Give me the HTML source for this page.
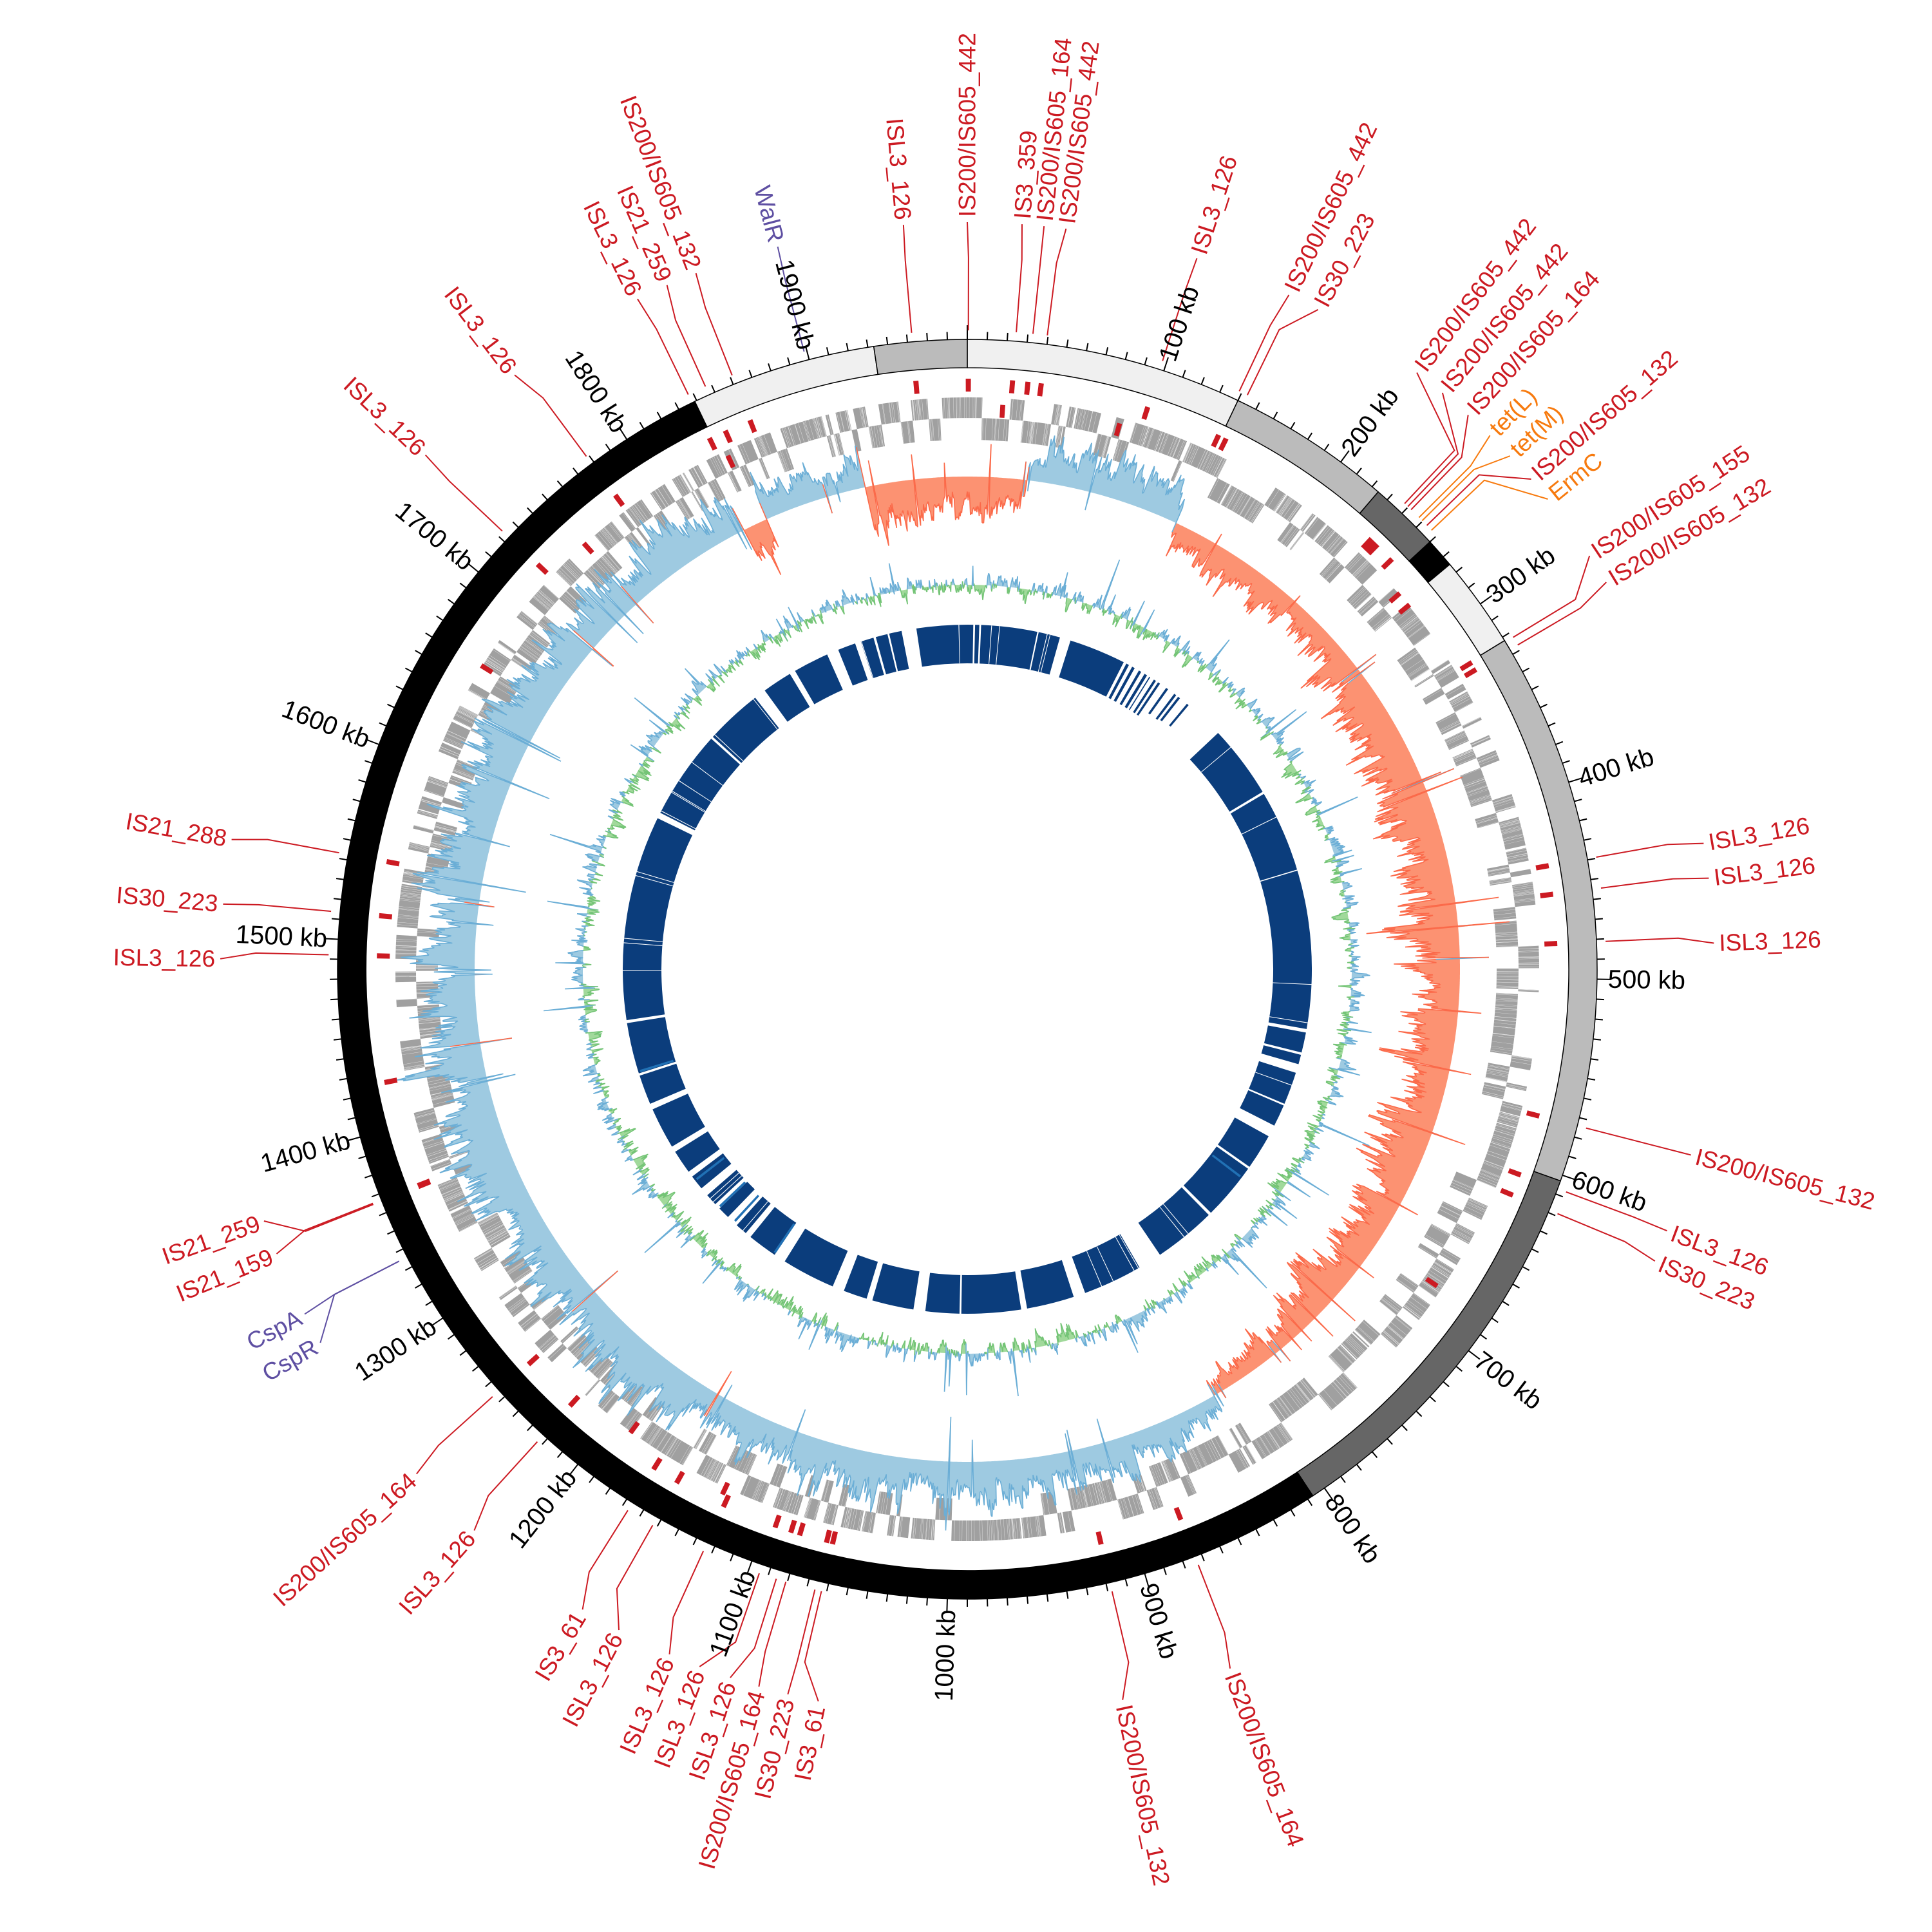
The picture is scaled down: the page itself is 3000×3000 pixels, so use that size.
<!DOCTYPE html>
<html><head><meta charset="utf-8">
<style>
html,body{margin:0;padding:0;background:#fff;}
svg{display:block;}
text{font-family:"Liberation Sans",sans-serif;font-size:37px;dominant-baseline:central;}
.r{fill:#cc1a22;}
.p{fill:#5e4fa2;}
.o{fill:#f77a0e;}
.k{fill:#000;font-size:40px;}
.L{text-anchor:end;}
</style></head>
<body>
<svg id="s" width="3000" height="3000" viewBox="0 0 3000 3000" xmlns="http://www.w3.org/2000/svg">
<g id="tracks"></g>
<g id="leaders"></g>
<g id="labels">
<text class="r L" transform="rotate(322.7 1502 1505) translate(1502 337) rotate(90)">ISL3_126</text>
<text class="r L" transform="rotate(313.5 1502 1505) translate(1502 337) rotate(90)">ISL3_126</text>
<text class="r L" transform="rotate(338.7 1502 1505) translate(1502 337) rotate(90)">IS200/IS605_132</text>
<text class="r L" transform="rotate(336.3 1502 1505) translate(1502 337) rotate(90)">IS21_259</text>
<text class="r L" transform="rotate(333.8 1502 1505) translate(1502 337) rotate(90)">ISL3_126</text>
<text class="p L" transform="rotate(345.3 1502 1505) translate(1502 337) rotate(90)">WalR</text>
<text class="r L" transform="rotate(355.1 1502 1505) translate(1502 337) rotate(90)">ISL3_126</text>
<text class="r" transform="rotate(0 1502 1505) translate(1502 337) rotate(-90)">IS200/IS605_442</text>
<text class="r" transform="rotate(4.2 1502 1505) translate(1502 337) rotate(-90)">IS3_359</text>
<text class="r" transform="rotate(5.9 1502 1505) translate(1502 337) rotate(-90)">IS200/IS605_164</text>
<text class="r" transform="rotate(7.6 1502 1505) translate(1502 337) rotate(-90)">IS200/IS605_442</text>
<text class="r" transform="rotate(17.9 1502 1505) translate(1502 337) rotate(-90)">ISL3_126</text>
<text class="r" transform="rotate(25.5 1502 1505) translate(1502 337) rotate(-90)">IS200/IS605_442</text>
<text class="r" transform="rotate(28.0 1502 1505) translate(1502 337) rotate(-90)">IS30_223</text>
<text class="r" transform="rotate(37.0 1502 1505) translate(1502 337) rotate(-90)">IS200/IS605_442</text>
<text class="r" transform="rotate(39.5 1502 1505) translate(1502 337) rotate(-90)">IS200/IS605_442</text>
<text class="r" transform="rotate(42.1 1502 1505) translate(1502 337) rotate(-90)">IS200/IS605_164</text>
<text class="o" transform="rotate(44.4 1502 1505) translate(1502 337) rotate(-90)">tet(L)</text>
<text class="o" transform="rotate(46.6 1502 1505) translate(1502 337) rotate(-90)">tet(M)</text>
<text class="r" transform="rotate(49.0 1502 1505) translate(1502 337) rotate(-90)">IS200/IS605_132</text>
<text class="o" transform="rotate(51.0 1502 1505) translate(1502 337) rotate(-90)">ErmC</text>
<text class="r" transform="rotate(56.4 1502 1505) translate(1502 337) rotate(-90)">IS200/IS605_155</text>
<text class="r" transform="rotate(58.8 1502 1505) translate(1502 337) rotate(-90)">IS200/IS605_132</text>
<text class="r" transform="rotate(80.3 1502 1505) translate(1502 337) rotate(-90)">ISL3_126</text>
<text class="r" transform="rotate(83.0 1502 1505) translate(1502 337) rotate(-90)">ISL3_126</text>
<text class="r" transform="rotate(88.0 1502 1505) translate(1502 337) rotate(-90)">ISL3_126</text>
<text class="r" transform="rotate(104.4 1502 1505) translate(1502 337) rotate(-90)">IS200/IS605_132</text>
<text class="r" transform="rotate(110.5 1502 1505) translate(1502 337) rotate(-90)">ISL3_126</text>
<text class="r" transform="rotate(113.0 1502 1505) translate(1502 337) rotate(-90)">IS30_223</text>
<text class="r" transform="rotate(159.4 1502 1505) translate(1502 337) rotate(-90)">IS200/IS605_164</text>
<text class="r" transform="rotate(168.0 1502 1505) translate(1502 337) rotate(-90)">IS200/IS605_132</text>
<text class="r L" transform="rotate(191.5 1502 1505) translate(1502 337) rotate(90)">IS3_61</text>
<text class="r L" transform="rotate(193.9 1502 1505) translate(1502 337) rotate(90)">IS30_223</text>
<text class="r L" transform="rotate(196.2 1502 1505) translate(1502 337) rotate(90)">IS200/IS605_164</text>
<text class="r L" transform="rotate(198.5 1502 1505) translate(1502 337) rotate(90)">ISL3_126</text>
<text class="r L" transform="rotate(201.0 1502 1505) translate(1502 337) rotate(90)">ISL3_126</text>
<text class="r L" transform="rotate(203.5 1502 1505) translate(1502 337) rotate(90)">ISL3_126</text>
<text class="r L" transform="rotate(207.8 1502 1505) translate(1502 337) rotate(90)">ISL3_126</text>
<text class="r L" transform="rotate(211.0 1502 1505) translate(1502 337) rotate(90)">IS3_61</text>
<text class="r L" transform="rotate(221.3 1502 1505) translate(1502 337) rotate(90)">ISL3_126</text>
<text class="r L" transform="rotate(227.5 1502 1505) translate(1502 337) rotate(90)">IS200/IS605_164</text>
<text class="p L" transform="rotate(242.5 1502 1505) translate(1502 337) rotate(90)">CspA</text>
<text class="p L" transform="rotate(240.0 1502 1505) translate(1502 337) rotate(90)">CspR</text>
<text class="r L" transform="rotate(250.3 1502 1505) translate(1502 337) rotate(90)">IS21_259</text>
<text class="r L" transform="rotate(247.6 1502 1505) translate(1502 337) rotate(90)">IS21_159</text>
<text class="r L" transform="rotate(270.8 1502 1505) translate(1502 337) rotate(90)">ISL3_126</text>
<text class="r L" transform="rotate(275.0 1502 1505) translate(1502 337) rotate(90)">IS30_223</text>
<text class="r L" transform="rotate(280.0 1502 1505) translate(1502 337) rotate(90)">IS21_288</text>
</g>
<g id="scale">
<text class="k" transform="rotate(18.18 1502 1505) translate(1502 510) rotate(-90)">100 kb</text>
<text class="k" transform="rotate(36.36 1502 1505) translate(1502 510) rotate(-90)">200 kb</text>
<text class="k" transform="rotate(54.55 1502 1505) translate(1502 510) rotate(-90)">300 kb</text>
<text class="k" transform="rotate(72.73 1502 1505) translate(1502 510) rotate(-90)">400 kb</text>
<text class="k" transform="rotate(90.91 1502 1505) translate(1502 510) rotate(-90)">500 kb</text>
<text class="k" transform="rotate(109.09 1502 1505) translate(1502 510) rotate(-90)">600 kb</text>
<text class="k" transform="rotate(127.27 1502 1505) translate(1502 510) rotate(-90)">700 kb</text>
<text class="k" transform="rotate(145.45 1502 1505) translate(1502 510) rotate(-90)">800 kb</text>
<text class="k" transform="rotate(163.64 1502 1505) translate(1502 510) rotate(-90)">900 kb</text>
<text class="k L" transform="rotate(181.82 1502 1505) translate(1502 510) rotate(90)">1000 kb</text>
<text class="k L" transform="rotate(200.00 1502 1505) translate(1502 510) rotate(90)">1100 kb</text>
<text class="k L" transform="rotate(218.18 1502 1505) translate(1502 510) rotate(90)">1200 kb</text>
<text class="k L" transform="rotate(236.36 1502 1505) translate(1502 510) rotate(90)">1300 kb</text>
<text class="k L" transform="rotate(254.55 1502 1505) translate(1502 510) rotate(90)">1400 kb</text>
<text class="k L" transform="rotate(272.73 1502 1505) translate(1502 510) rotate(90)">1500 kb</text>
<text class="k L" transform="rotate(290.91 1502 1505) translate(1502 510) rotate(90)">1600 kb</text>
<text class="k L" transform="rotate(309.09 1502 1505) translate(1502 510) rotate(90)">1700 kb</text>
<text class="k L" transform="rotate(327.27 1502 1505) translate(1502 510) rotate(90)">1800 kb</text>
<text class="k L" transform="rotate(345.45 1502 1505) translate(1502 510) rotate(90)">1900 kb</text>
</g>
</svg>
<script>
(function(){
var CX=1502,CY=1505,NS="http://www.w3.org/2000/svg";
var T=document.getElementById('tracks'),LD=document.getElementById('leaders');
function P(a,r){var t=a*Math.PI/180;return [CX+r*Math.sin(t),CY-r*Math.cos(t)];}
function f(n){return n.toFixed(1);}
function sec(a0,a1,r0,r1){var p0=P(a0,r1),p1=P(a1,r1),p2=P(a1,r0),p3=P(a0,r0);var la=(a1-a0)>180?1:0;
return 'M'+f(p0[0])+','+f(p0[1])+'A'+r1+','+r1+' 0 '+la+' 1 '+f(p1[0])+','+f(p1[1])+'L'+f(p2[0])+','+f(p2[1])+'A'+r0+','+r0+' 0 '+la+' 0 '+f(p3[0])+','+f(p3[1])+'Z';}
function path(d,attrs,parent){var e=document.createElementNS(NS,'path');e.setAttribute('d',d);for(var k in attrs)e.setAttribute(k,attrs[k]);(parent||T).appendChild(e);return e;}
var seed=12345;function rnd(){seed|=0;seed=seed+0x6D2B79F5|0;var t=Math.imul(seed^seed>>>15,1|seed);t=t+Math.imul(t^t>>>7,61|t)^t;return((t^t>>>14)>>>0)/4294967296;}
var L=1980;function kd(k){return k/L*360;}
var segs=[[0,140,'#f0f0f0'],[140,224,'#bbbbbb'],[224,260,'#666666'],[260,275,'#000000'],[275,322,'#f0f0f0'],[322,603,'#bbbbbb'],[603,807,'#666666'],[807,1839,'#000000'],[1839,1933,'#f0f0f0'],[1933,1980,'#bbbbbb']];
segs.forEach(function(s){path(sec(kd(s[0]),kd(s[1]),934,978),{fill:s[2],stroke:'#000','stroke-width':1.5});});
var td='';for(var k=0;k<L;k+=10){var a=kd(k),len=(k%100==0)?22:12;var p=P(a,978),q=P(a,978+len);td+='M'+f(p[0])+','+f(p[1])+'L'+f(q[0])+','+f(q[1]);}
path(td,{stroke:'#000','stroke-width':2,fill:'none'});
var g1='',g2='';var a=0;while(a<360){var w=0.15+rnd()*1.4;var c=rnd();
 if(c<0.45)g1+=sec(a,a+w,856,888);else if(c<0.9)g2+=sec(a,a+w,822,856);else{g1+=sec(a,a+w,856,888);}
 a+=w+(rnd()<0.15?rnd()*0.3:0.0);}
path(g1,{fill:'#a0a0a0'});path(g2,{fill:'#a0a0a0'});
var gw='';for(var i=0;i<1800;i++){var b=rnd()*360;gw+=sec(b,b+0.025,822,888);}path(gw,{fill:'#fff','fill-opacity':0.8});
var feats=[[322.7,323.4,'#cc1a22'],[313.5,313.3,'#cc1a22'],[338.7,338.4,'#cc1a22'],[336.3,335.8,'#cc1a22'],[333.8,334.1,'#cc1a22'],[345.3,345.2,'#5e4fa2'],[355.1,355.0,'#cc1a22'],[0,0.1,'#cc1a22'],[4.2,4.4,'#cc1a22'],[5.9,5.9,'#cc1a22'],[7.6,7.2,'#cc1a22'],[17.9,17.8,'#cc1a22'],[25.5,25.2,'#cc1a22'],[28.0,26.0,'#cc1a22'],[37.0,43.2,'#cc1a22'],[39.5,43.6,'#cc1a22'],[42.1,44.0,'#cc1a22'],[44.4,45.0,'#f77a0e'],[46.6,45.4,'#f77a0e'],[49.0,46.0,'#cc1a22'],[51.0,46.6,'#f77a0e'],[56.4,58.7,'#cc1a22'],[58.8,59.5,'#cc1a22'],[80.3,79.9,'#cc1a22'],[83.0,82.7,'#cc1a22'],[88.0,87.5,'#cc1a22'],[104.4,104.4,'#cc1a22'],[110.5,110.4,'#cc1a22'],[113.0,112.5,'#cc1a22'],[159.4,158.8,'#cc1a22'],[168.0,166.9,'#cc1a22'],[191.5,193.2,'#cc1a22'],[193.9,193.8,'#cc1a22'],[196.2,196.5,'#cc1a22'],[198.5,197.4,'#cc1a22'],[201.0,199.0,'#cc1a22'],[203.5,204.4,'#cc1a22'],[207.8,209.5,'#cc1a22'],[211.0,212.1,'#cc1a22'],[221.3,222.3,'#cc1a22'],[227.5,228.0,'#cc1a22'],[242.5,242.8,'#5e4fa2'],[240.0,242.8,'#5e4fa2'],[250.3,248.4,'#cc1a22'],[247.6,248.5,'#cc1a22'],[270.8,271.3,'#cc1a22'],[275.0,275.2,'#cc1a22'],[280.0,280.5,'#cc1a22']];
var red='';
feats.forEach(function(ft){var la=ft[0],fa=ft[1];var p0=P(fa,992),p1=P(fa,1105),p2=P(la,1160);
 path('M'+f(p0[0])+','+f(p0[1])+'L'+f(p1[0])+','+f(p1[1])+'L'+f(p2[0])+','+f(p2[1]),{stroke:ft[2],'stroke-width':2,fill:'none'},LD);
 if(ft[2]=='#cc1a22'){red+=sec(fa-0.25,fa+0.25,897,917);}});
[[3.6,858],[15.6,860],[49,870],[50.5,870],[124,860],[216,870],[205,880],[302,870],[318,870],[335,860],[259,902]].forEach(function(m){red+=sec(m[0]-0.25,m[0]+0.25,m[1],m[1]+20);});
path(red,{fill:'#cc1a22'});
function inRed(a){return (a>348&&a<=360)||(a>=0&&a<7)||(a>25&&a<150)||(a>333&&a<336);}
var N=3600,B1=765,vals=[];var sm=0,saw=0;
for(var i=0;i<N;i++){var aa=i/10;sm=sm*0.9+(rnd()-0.5)*0.8;saw=(rnd()<0.04)?1:saw*0.93;
 var m=22+Math.abs(sm)*35+saw*45+Math.pow(rnd(),3)*30;
 var env=0.75;if(aa>25&&aa<150)env=0.5+0.5*Math.sin((aa-25)/125*Math.PI);if(aa>150&&aa<348)env=0.6+0.4*Math.sin((aa-150)/198*Math.PI);
 m*=env;var v=inRed(aa)?-m:m;if(rnd()<0.015)v=-v*0.7;vals.push(v);}
function track(base,vals,sign){var d='',i,r;for(i=0;i<=N;i++){var v=vals[i%N];r=base+(sign>0?Math.max(v,0):Math.min(v,0));var p=P(i/10,r);d+=(i?'L':'M')+f(p[0])+','+f(p[1]);}
 for(i=N;i>=0;i--){var p=P(i/10,base);d+='L'+f(p[0])+','+f(p[1]);}return d+'Z';}
function strokes(base,vals,cp,cn){var dp='',dn='';for(var i=0;i<N;i++){var v0=vals[i],v1=vals[(i+1)%N];var p=P(i/10,base+v0),q=P((i+1)/10,base+v1);var s='M'+f(p[0])+','+f(p[1])+'L'+f(q[0])+','+f(q[1]);if(v0+v1>=0)dp+=s;else dn+=s;}
 path(dp,{fill:'none',stroke:cp,'stroke-width':1.6});path(dn,{fill:'none',stroke:cn,'stroke-width':1.6});}
path(track(B1,vals,1),{fill:'#9ecae1'});path(track(B1,vals,-1),{fill:'#fc9272'});
strokes(B1,vals,'#6baed6','#fb6a4a');
var B2=597,v2=[];sm=0;
for(var i=0;i<N;i++){sm=sm*0.8+(rnd()-0.5)*0.6;var v=sm*30+(rnd()-0.5)*14;if(rnd()<0.02)v+=rnd()*50;if(rnd()<0.004)v+=70;v2.push(v);}
path(track(B2,v2,1),{fill:'#9ecae1'});path(track(B2,v2,-1),{fill:'#a1d99b'});
strokes(B2,v2,'#6baed6','#74c476');
var gaps=[[349,351.5],[346.6,346.9],[344.2,344.6],[341,342],[336,338],[329,330],[322,324],[312,312.4],[296,297],[261,261.5],[252,252.4],[246,247],[238,239],[233,234],[229,230.5],[226,227],[222,224],[219,220],[212,214],[201,203],[196,197],[187,189],[181,181.3],[170,171],[160,162],[146,150],[135,135.5],[125,125.4],[117,119],[113,113.3],[106,107.5],[104,104.4],[100,100.6],[59,59.4],[27,46.7],[15.6,17.4],[2.0,2.3],[1.0,1.3]];
gaps.sort(function(a,b){return a[0]-b[0];});
var bd='',cur=0;gaps.forEach(function(g){if(g[0]>cur)bd+=sec(cur,g[0],475,535);cur=Math.max(cur,g[1]);});if(cur<360)bd+=sec(cur,360,475,535);
for(var b=27.5;b<40;b+=0.8+rnd()*1.2){var w=0.15+rnd()*0.4;bd+=sec(b,b+w,475+(b>34?rnd()*20:0),535);}
path(bd,{fill:'#0b3d7c'});
var wl='';for(var i=0;i<40;i++){var b=rnd()*360;wl+=sec(b,b+0.12,475,535);}path(wl,{fill:'#fff'});
var lb='';[[222.5,224.5],[226,229],[232,233],[252.5,253.5],[127,128],[214,215]].forEach(function(g){lb+=sec(g[0],g[0]+0.4,478,532);});path(lb,{fill:'#2171b5'});
})();
</script>
</body></html>
